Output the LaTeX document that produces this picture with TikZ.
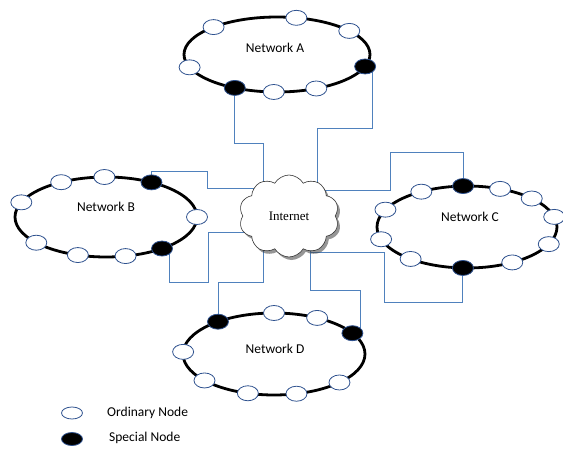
\documentclass[tikz,border=0pt]{standalone}
\usepackage{fontspec}
\setmainfont{Carlito}
\newfontfamily\intfont{Liberation Serif}
\usetikzlibrary{shapes.geometric,shapes.symbols,shadows,backgrounds,calc}
\definecolor{linkblue}{RGB}{79,129,189}
\definecolor{nodeblue}{RGB}{47,82,143}
\begin{document}
\begin{tikzpicture}[x=1pt,y=-1pt,
  ring/.style={line width=2.8pt, draw=black},
  ord/.style={ellipse, draw=nodeblue, fill=white, line width=0.8pt, minimum width=21pt, minimum height=15pt, inner sep=0pt},
  spec/.style={ord, fill=black},
  link/.style={draw=linkblue, line width=0.9pt},
  netlabel/.style={font=\fontsize{13.5}{15}\selectfont, inner sep=0pt},
  legend/.style={font=\fontsize{13.5}{15}\selectfont, inner sep=0pt, anchor=west}]
\useasboundingbox (0,0) rectangle (563,450);

% centres of the rings
\coordinate (Ac) at (277,54.5);
\coordinate (Bc) at (106,217);
\coordinate (Cc) at (467,227);
\coordinate (Dc) at (274,354);

% rings
\draw[ring] (Ac) ellipse [x radius=93, y radius=37.5];
\draw[ring] (Bc) ellipse [x radius=91, y radius=40];
\draw[ring] (Cc) ellipse [x radius=90, y radius=41];
\draw[ring] (Dc) ellipse [x radius=91, y radius=41];

% Network A
\node[ord]  (A1)  at ($(Ac)+(-133:93 and 37.5)$) {};
\node[ord]  (A2)  at ($(Ac)+(-78:93 and 37.5)$) {};
\node[ord]  (A3)  at ($(Ac)+(-39:93 and 37.5)$) {};
\node[ord]  (A4)  at ($(Ac)+(160:93 and 37.5)$) {};
\node[spec] (As2) at ($(Ac)+(18.6:93 and 37.5)$) {};
\node[spec] (As1) at ($(Ac)+(117:93 and 37.5)$) {};
\node[ord]  (A5)  at ($(Ac)+(92:93 and 37.5)$) {};
\node[ord]  (A6)  at ($(Ac)+(65:93 and 37.5)$) {};
\node[netlabel] (LA) at (275,48) {Network A};

% Network B
\node[ord]  (B1)  at ($(Bc)+(-119.5:91 and 40)$) {};
\node[ord]  (B2)  at ($(Bc)+(-91:91 and 40)$) {};
\node[spec] (Bs1) at ($(Bc)+(-60:91 and 40)$) {};
\node[ord]  (B3)  at ($(Bc)+(-158.5:91 and 40)$) {};
\node[ord]  (B4)  at ($(Bc)+(0:91 and 40)$) {};
\node[ord]  (B5)  at ($(Bc)+(140:91 and 40)$) {};
\node[ord]  (B6)  at ($(Bc)+(108:91 and 40)$) {};
\node[ord]  (B7)  at ($(Bc)+(77.6:91 and 40)$) {};
\node[spec] (Bs2) at ($(Bc)+(52:91 and 40)$) {};
\node[netlabel] (LB) at (106,207) {Network B};

% Network C
\node[spec] (Cs1) at ($(Cc)+(-92.5:90 and 41)$) {};
\node[ord]  (C1)  at ($(Cc)+(-68.4:90 and 41)$) {};
\node[ord]  (C2)  at ($(Cc)+(-44:90 and 41)$) {};
\node[ord]  (C3)  at ($(Cc)+(-14.3:90 and 41)$) {};
\node[ord]  (C4)  at ($(Cc)+(-155:90 and 41)$) {};
\node[ord]  (C5)  at ($(Cc)+(-120.5:90 and 41)$) {};
\node[ord]  (C6)  at ($(Cc)+(162.6:90 and 41)$) {};
\node[ord]  (C7)  at ($(Cc)+(24.7:90 and 41)$) {};
\node[ord]  (C8)  at ($(Cc)+(128.8:90 and 41)$) {};
\node[ord]  (C9)  at ($(Cc)+(59.8:90 and 41)$) {};
\node[spec] (Cs2) at ($(Cc)+(92.6:90 and 41)$) {};
\node[netlabel] (LC) at (470,217) {Network C};

% Network D
\node[spec] (Ds1) at ($(Dc)+(-128:91 and 41)$) {};
\node[ord]  (D1)  at ($(Dc)+(-90:91 and 41)$) {};
\node[ord]  (D2)  at ($(Dc)+(-61.7:91 and 41)$) {};
\node[spec] (Ds2) at ($(Dc)+(-30.5:91 and 41)$) {};
\node[ord]  (D3)  at ($(Dc)+(-177:91 and 41)$) {};
\node[ord]  (D4)  at ($(Dc)+(139.8:91 and 41)$) {};
\node[ord]  (D5)  at ($(Dc)+(106.7:91 and 41)$) {};
\node[ord]  (D6)  at ($(Dc)+(75.7:91 and 41)$) {};
\node[ord]  (D7)  at ($(Dc)+(44:91 and 41)$) {};
\node[netlabel] (LD) at (275,349) {Network D};

% Internet cloud
\node[cloud, cloud puffs=10, cloud puff arc=120, aspect=1.2, draw=black!80, fill=white,
      line width=0.6pt, minimum width=100pt, minimum height=82pt, inner sep=0pt,
      drop shadow={shadow xshift=2.5pt, shadow yshift=-3pt, fill=black!75, opacity=0.55}]
      (cloud) at (289,216) {\intfont\fontsize{13}{15}\selectfont Internet};

% connectors
\begin{scope}[on background layer]
\draw[link] (As1.center) |- (263,143) |- (cloud.center);
\draw[link] (As2.south east) |- (317,128) |- (cloud.center);
\draw[link] (Cs1.center) |- (390,152) |- (317,190) |- (cloud.center);
\draw[link] (Bs1.center) |- (207,171) |- (263,188) |- (cloud.center);
\draw[link] (Bs2.south east) |- (208,282) |- ($(cloud.center)+(0,16)$);
\draw[link] (Ds1.center) |- (263,282) |- (cloud.center);
\draw[link] (Ds2.north east) |- (310,290) |- (cloud.center);
\draw[link] (Cs2.center) |- (384,302) |- (310,252) |- (cloud.center);
\end{scope}

% legend
\node[ord, minimum height=12pt] (L1) at (72,413) {};
\node[spec, minimum height=13pt] (L2) at (72,439) {};
\node[legend] (T1) at (107,413) {Ordinary Node};
\node[legend] (T2) at (109,438) {Special Node};
\end{tikzpicture}
\end{document}
